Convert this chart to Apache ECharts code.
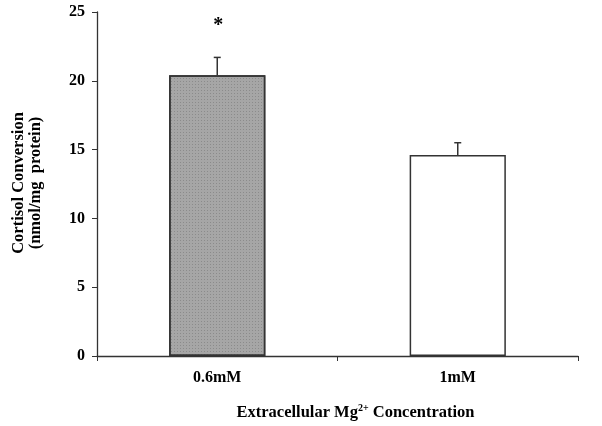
<!DOCTYPE html>
<html>
<head>
<meta charset="utf-8">
<script src="https://cdn.jsdelivr.net/npm/echarts@6/dist/echarts.min.js"></script>
<style>
html, body { margin: 0; padding: 0; background: #fff; }
#chartDiv { width: 602px; height: 426px; }
</style>
</head>
<body>
<div id="chartDiv"></div>
<script>
var categories = ['0.6mM', '1mM'];
var means = [20.4, 14.6];
var errors = [1.3, 0.9];
var marks = ['*', ''];
var yTicks = [0, 5, 10, 15, 20, 25];

var serif = '"Liberation Serif", "Times New Roman", serif';
var axisColor = '#333';

var errData = categories.map(function (c, i) { return [i, means[i], means[i] + errors[i], marks[i]]; });

var option = {
    animation: false,
    grid: { left: 97, right: 24, top: 12, bottom: 70 },
    xAxis: {
        type: 'category',
        data: categories,
        name: 'Extracellular Mg{sup|2+} Concentration',
        nameLocation: 'middle',
        nameGap: 47,
        nameTextStyle: {
            fontFamily: serif, fontSize: 16.5, fontWeight: 'bold', color: '#000',
            padding: [0, 0, 0, 36],
            rich: { sup: { fontFamily: serif, fontSize: 10, fontWeight: 'bold', color: '#000', verticalAlign: 'top', padding: [0, 0, 9, 0] } }
        },
        axisLine: { lineStyle: { color: axisColor, width: 1.3 } },
        axisTick: { show: true, length: 5, lineStyle: { color: axisColor } },
        axisLabel: { fontFamily: serif, fontSize: 16, fontWeight: 'bold', color: '#000', margin: 14 },
        splitLine: { show: false }
    },
    yAxis: {
        type: 'value',
        min: yTicks[0],
        max: yTicks[yTicks.length - 1],
        interval: yTicks[1] - yTicks[0],
        axisLine: { show: true, lineStyle: { color: axisColor, width: 1.3 } },
        axisTick: { show: true, length: 5, lineStyle: { color: axisColor } },
        axisLabel: { fontFamily: serif, fontSize: 16, fontWeight: 'bold', color: '#000', margin: 12 },
        splitLine: { show: false }
    },
    graphic: [{
        type: 'text',
        x: 27, y: 183,
        rotation: Math.PI / 2,
        style: {
            text: 'Cortisol Conversion\n(nmol/mg  protein)',
            font: 'bold 16.5px ' + serif,
            fill: '#000',
            align: 'center',
            verticalAlign: 'middle',
            lineHeight: 17
        }
    }],
    series: [
        {
            type: 'bar',
            data: [
                { value: means[0], itemStyle: { color: '#a6a6a6', decal: { symbol: 'rect', symbolSize: 1, dashArrayX: [1, 2], dashArrayY: [1, 2], color: 'rgba(60,60,60,0.25)' } } },
                { value: means[1], itemStyle: { color: '#ffffff' } }
            ],
            barWidth: '40%',
            itemStyle: { borderColor: '#333', borderWidth: 1.5 }
        },
        {
            type: 'custom',
            data: errData,
            z: 5,
            renderItem: function (params, api) {
                var top = api.coord([api.value(0), api.value(2)]);
                var base = api.coord([api.value(0), api.value(1)]);
                var children = [
                    { type: 'line', shape: { x1: top[0], y1: top[1], x2: base[0], y2: base[1] }, style: { stroke: '#333', lineWidth: 1.5 } },
                    { type: 'line', shape: { x1: top[0] - 3.5, y1: top[1], x2: top[0] + 3.5, y2: top[1] }, style: { stroke: '#333', lineWidth: 1.5 } }
                ];
                var m = marks[params.dataIndex];
                if (m) {
                    children.push({ type: 'text', x: top[0] + 1, y: top[1] - 32, style: { text: m, font: 'bold 20px ' + serif, fill: '#000', align: 'center', verticalAlign: 'middle' } });
                }
                return { type: 'group', children: children };
            }
        }
    ]
};

var myChart = echarts.init(document.getElementById('chartDiv'));
myChart.setOption(option);
</script>
</body>
</html>
